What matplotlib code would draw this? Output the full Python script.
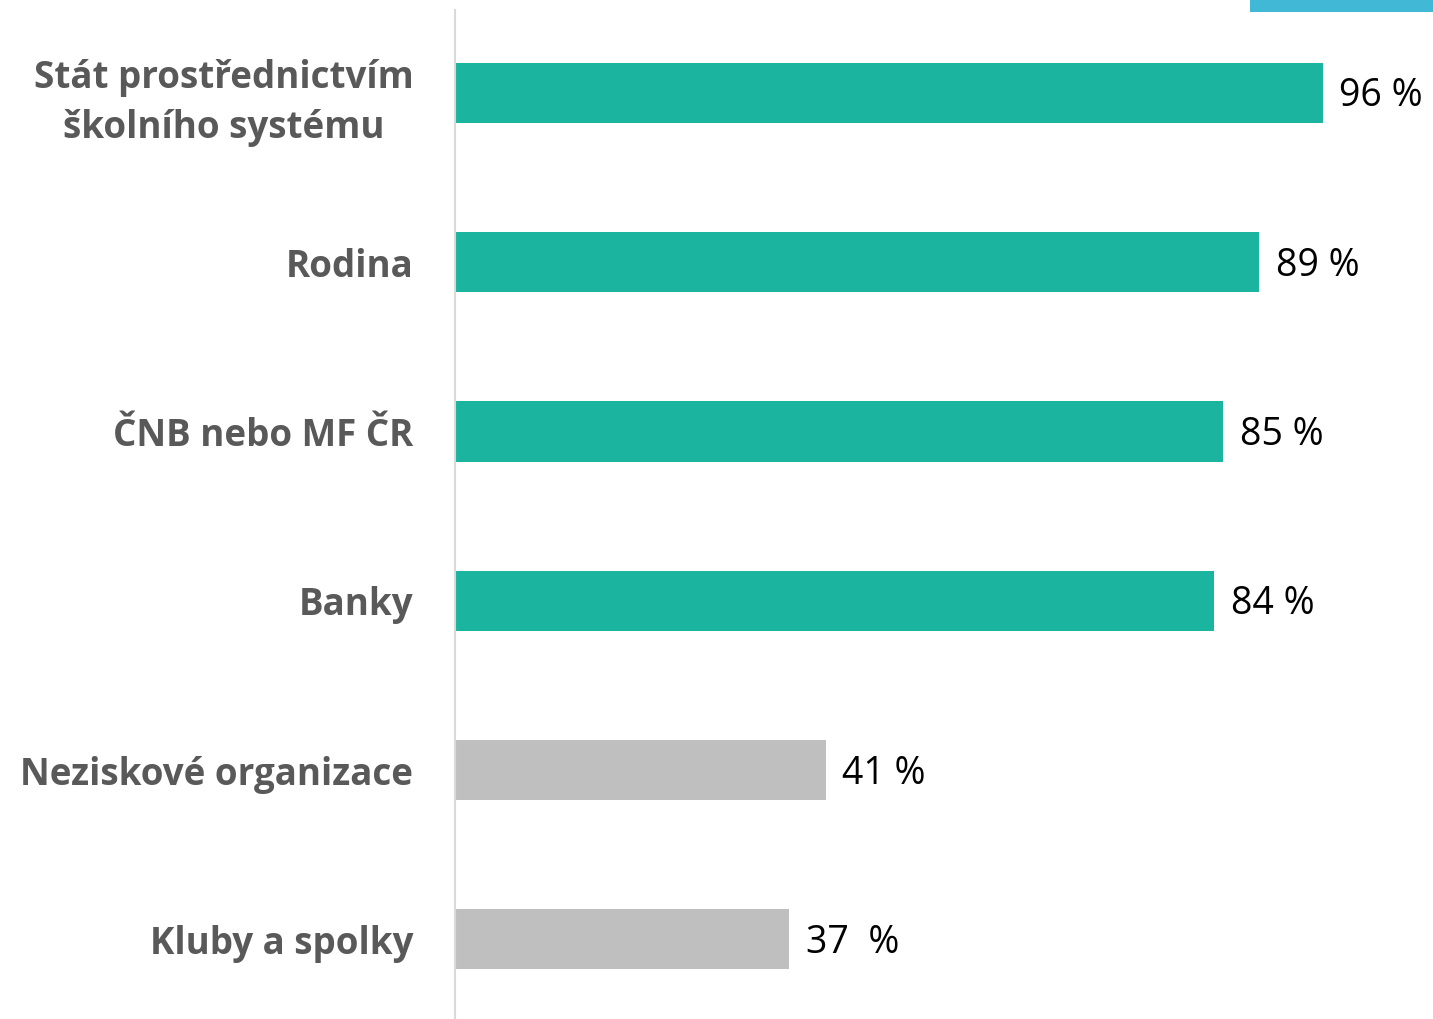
import matplotlib.pyplot as plt
from matplotlib.patches import Rectangle

categories = [
    "Stát prostřednictvím\nškolního systému",
    "Rodina",
    "ČNB nebo MF ČR",
    "Banky",
    "Neziskové organizace",
    "Kluby a spolky",
]
values = [96, 89, 85, 84, 41, 37]
value_labels = ["96 %", "89 %", "85 %", "84 %", "41 %", "37  %"]
highlight = [True, True, True, True, False, False]

TEAL = "#1BB49F"
GREY = "#BFBFBF"
LABEL = "#595959"

plt.rcParams["font.family"] = ["Open Sans", "DejaVu Sans"]

fig = plt.figure(figsize=(14.33, 10.19), dpi=100)
ax = fig.add_axes([455 / 1433, 0.0, 1 - 455 / 1433, 1009 / 1019])

ypos = list(range(len(categories)))
colors = [TEAL if h else GREY for h in highlight]
ax.barh(ypos, values, height=0.355, color=colors, edgecolor="none")

for y, v, lab in zip(ypos, values, value_labels):
    ax.text(v + 1.8, y + 0.02, lab, va="center", ha="left", fontsize=27, color="black")

ax.set_xlim(0, 108.2)
ax.set_ylim(5.47, -0.49)
ax.set_yticks(ypos)
ax.set_yticklabels(categories, fontsize=26.5, fontweight="bold", color=LABEL,
                   linespacing=1.4)
ax.tick_params(axis="y", length=0, pad=30)
ax.tick_params(axis="x", bottom=False, labelbottom=False)

for s in ["top", "right", "bottom"]:
    ax.spines[s].set_visible(False)
ax.spines["left"].set_color("#D9D9D9")
ax.spines["left"].set_linewidth(1.5)

# right-align tick labels against the axis, centre multi-line ones
for t in ax.get_yticklabels():
    t.set_horizontalalignment("right")
    t.set_multialignment("center")

# cyan strip at top right (legend remnant)
fig.patches.append(Rectangle((1250 / 1433, 1 - 12 / 1019), 183 / 1433, 12 / 1019,
                             transform=fig.transFigure, facecolor="#41B9D6",
                             edgecolor="none"))

fig.savefig("out.png", dpi=100)
